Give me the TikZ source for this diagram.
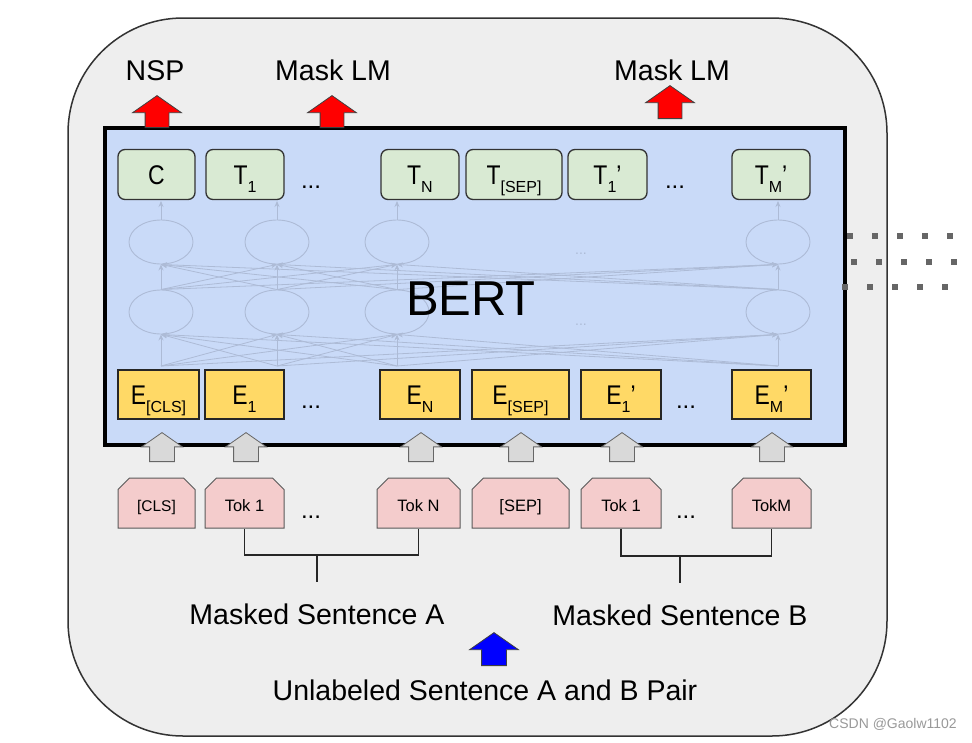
\documentclass[tikz,border=0pt]{standalone}
\usepackage{fontspec}
\setmainfont{Liberation Sans}
\newfontfamily\narrowfont{Liberation Sans}[FakeStretch=0.85]
\usetikzlibrary{arrows.meta, positioning, shapes.arrows, shapes.misc, shapes.geometric}
\definecolor{panel}{HTML}{EEEEEE}
\definecolor{bertblue}{HTML}{C9DAF8}
\definecolor{tgreen}{HTML}{D9EAD3}
\definecolor{eyellow}{HTML}{FFD966}
\definecolor{tokpink}{HTML}{F4CCCC}
\definecolor{netc}{HTML}{ADBBD6}
\definecolor{ingray}{HTML}{D9D9D9}
\definecolor{dotgray}{HTML}{666666}
\newcommand{\subs}[1]{\raisebox{-8pt}{\fontspec{Liberation Sans}\fontsize{16}{16}\selectfont #1}}
\tikzset{
  outer/.style = {draw=black!80, fill=panel, line width=1.5pt, rounded corners=115pt},
  bert/.style  = {draw=black, fill=bertblue, line width=4pt},
  tbox/.style  = {draw=black!80, fill=tgreen, rounded corners=7pt, line width=1.3pt,
                  minimum height=50pt, inner sep=0pt, text height=19pt, text depth=0pt,
                  font=\narrowfont\fontsize{27}{27}\selectfont},
  ebox/.style  = {draw=black!85, fill=eyellow, line width=1.3pt,
                  minimum height=49pt, inner sep=0pt, text height=19pt, text depth=0pt,
                  font=\narrowfont\fontsize{27}{27}\selectfont},
  tok/.style   = {chamfered rectangle, chamfered rectangle corners={north west, north east},
                  chamfered rectangle xsep=8pt, draw=black!65, fill=tokpink, line width=1pt,
                  minimum height=50pt, inner sep=0pt, text height=17pt, text depth=0pt,
                  font=\fontsize{16.5}{16.5}\selectfont},
  cell/.style  = {ellipse, draw=netc, line width=0.9pt, minimum width=64pt, minimum height=44pt},
  netarr/.style= {draw=netc, line width=0.8pt, -{Stealth[length=6pt,width=5pt]}},
  fat/.style   = {single arrow, rotate=90, anchor=tail, inner sep=0pt, text width=0pt,
                  single arrow tip angle=110, line width=0.8pt},
  lbl/.style   = {anchor=base, inner sep=0pt, font=\fontsize{28.5}{28.5}\selectfont},
  dots/.style  = {anchor=base, inner sep=0pt, font=\fontsize{24}{24}\selectfont},
  br/.style    = {draw=black!85, line width=1.5pt},
}
\begin{document}
\begin{tikzpicture}[x=1pt, y=-1pt]
  \useasboundingbox (0,0) rectangle (972,742);
  \fill[white] (0,0) rectangle (972,742);
  \draw[outer] (68,18) rectangle (887,736);

  % BERT block
  \draw[bert] (105,128) rectangle (845,445);

  % faint network inside
  \foreach \c/\x in {1/161, 2/277, 3/397, 4/778} {
    \node[cell] (up\c) at (\x,242) {};
    \node[cell] (lo\c) at (\x,312) {};
    \coordinate (in\c) at (\x,366);
    \draw[netarr] (up\c.north) -- (\x,201);
  }
  \foreach \i in {1,...,4} \foreach \j in {1,...,4} {
    \draw[netarr] (lo\j.north) -- (up\i.south);
    \draw[netarr] (in\j) -- (lo\i.south);
  }
  \node[text=netc, font=\fontsize{14}{14}\selectfont] (netdotsA) at (581,254) {...};
  \node[text=netc, font=\fontsize{14}{14}\selectfont] (netdotsB) at (581,325) {...};

  % output row
  \node[tbox, minimum width=77pt] (tC)   at (156.5,174.5) {C};
  \node[tbox, minimum width=78pt] (tA1)  at (245,174.5)   {T\subs{1}};
  \node[dots] (tdotsA) at (311,188) {...};
  \node[tbox, minimum width=78pt] (tAN)  at (420,174.5)   {T\subs{N}};
  \node[tbox, minimum width=96pt] (tSEP) at (514,174.5)   {T\subs{[SEP]}};
  \node[tbox, minimum width=79pt] (tB1)  at (607.5,174.5) {T\subs{1}’};
  \node[dots] (tdotsB) at (675,188) {...};
  \node[tbox, minimum width=78pt] (tBM)  at (771,174.5)   {T\subs{M}’};

  % embedding row
  \node[ebox, minimum width=81pt] (eCLS) at (158.5,394.5) {E\subs{[CLS]}};
  \node[ebox, minimum width=79pt] (eA1)  at (244.5,394.5) {E\subs{1}};
  \node[dots] (edotsA) at (311,408) {...};
  \node[ebox, minimum width=80pt] (eAN)  at (420,394.5)   {E\subs{N}};
  \node[ebox, minimum width=97pt] (eSEP) at (520.5,394.5) {E\subs{[SEP]}};
  \node[ebox, minimum width=80pt] (eB1)  at (621,394.5)   {E\subs{1}’};
  \node[dots] (edotsB) at (686,408) {...};
  \node[ebox, minimum width=79pt] (eBM)  at (771.5,394.5) {E\subs{M}’};

  \node[anchor=base, inner sep=0pt, font=\fontsize{49}{49}\selectfont] (bertlbl) at (471,315) {BERT};

  % heads
  \node[fat, fill=red, draw=black!75, text height=23pt, single arrow head extend=12.5pt,
        minimum height=32pt] (nspArr) at (157,128) {};
  \node[fat, fill=red, draw=black!75, text height=23pt, single arrow head extend=12.5pt,
        minimum height=32pt] (mlmArrA) at (332,128) {};
  \node[fat, fill=red, draw=black!75, text height=23pt, single arrow head extend=12.5pt,
        minimum height=33pt] (mlmArrB) at (670,119) {};
  \node[lbl] (nsp)  at (155,80) {NSP};
  \node[lbl] (mlmA) at (333,80) {Mask LM};
  \node[lbl] (mlmB) at (672,80) {Mask LM};

  % input arrows
  \foreach \x in {162, 246, 421, 521, 622, 772}
    \node[fat, fill=ingray, draw=black!60, text height=24pt, single arrow head extend=8pt,
          minimum height=29pt] at (\x,462) {};

  % input tokens
  \node[tok, minimum width=77pt, font=\fontsize{15.5}{15.5}\selectfont] (kCLS) at (156.5,503) {[CLS]};
  \node[tok, minimum width=79pt] (kA1)  at (244.5,503) {Tok 1};
  \node[dots] (kdotsA) at (311,518) {...};
  \node[tok, minimum width=83pt] (kAN)  at (418.5,503) {Tok N};
  \node[tok, minimum width=97pt] (kSEP) at (520.5,503) {[SEP]};
  \node[tok, minimum width=80pt] (kB1)  at (621,503)   {Tok 1};
  \node[dots] (kdotsB) at (686,518) {...};
  \node[tok, minimum width=79pt] (kBM)  at (771.5,503) {TokM};

  % sentence brackets
  \coordinate (brA) at (317,555);
  \coordinate (stA) at (317,582);
  \coordinate (brB) at (680,556);
  \coordinate (stB) at (680,583);
  \draw[br] (kA1.south) -- (kA1.south |- brA) -- (kAN.south |- brA) -- (kAN.south);
  \draw[br] (brA) -- (stA);
  \draw[br] (kB1.south) -- (kB1.south |- brB) -- (kBM.south |- brB) -- (kBM.south);
  \draw[br] (brB) -- (stB);
  \node[lbl] (sentA) at (317,624) {Masked Sentence A};
  \node[lbl] (sentB) at (680,625) {Masked Sentence B};

  \node[fat, fill=blue, draw=black!75, text height=24pt, single arrow head extend=12pt,
        minimum height=33pt] (pairArr) at (494,666) {};
  \node[lbl] (pair) at (485,700) {Unlabeled Sentence A and B Pair};

  % dotted continuation
  \draw[dotgray, line width=6pt, dash pattern=on 6pt off 19pt] (847,236) -- (956,236);
  \draw[dotgray, line width=6pt, dash pattern=on 6pt off 19pt] (851,262) -- (960,262);
  \draw[dotgray, line width=6pt, dash pattern=on 6pt off 19pt] (842,287) -- (951,287);

  \node[anchor=base, text=black!40, font=\fontsize{14}{14}\selectfont] (mark) at (893,728) {CSDN @Gaolw1102};
\end{tikzpicture}
\end{document}
